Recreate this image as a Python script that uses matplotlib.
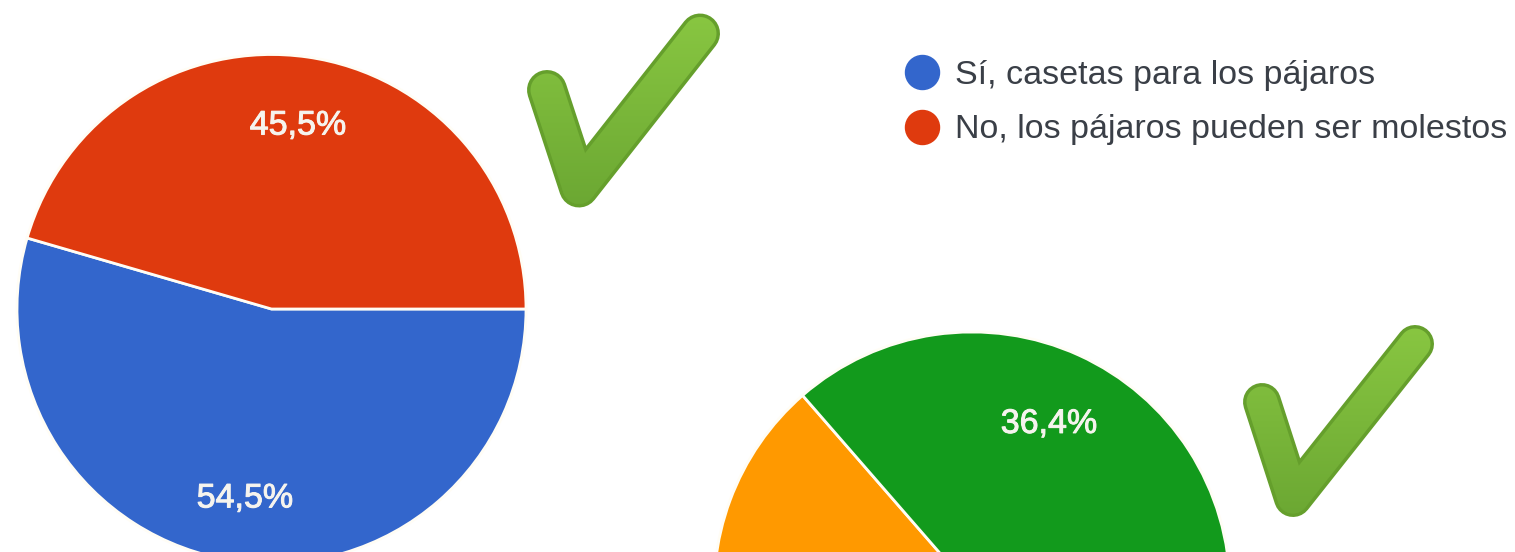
import numpy as np
import matplotlib
matplotlib.use("Agg")
import matplotlib.pyplot as plt
import matplotlib.patheffects as pe
from matplotlib.lines import Line2D
from matplotlib.path import Path
from matplotlib.patches import PathPatch

W, H = 1515, 552

# top pie
pie1_values = [54.5, 45.5]
pie1_labels = ["54,5%", "45,5%"]
pie1_colors = ["#3366cc", "#df3a0e"]
legend_labels = ["Sí, casetas para los pájaros", "No, los pájaros pueden ser molestos"]

# second pie, cut off by the bottom of the picture
pie2_values = [63.6, 36.4]
pie2_labels = [None, "36,4%"]
pie2_colors = ["#ff9900", "#129a1c"]


def py(y):
    # picture pixels count from the top
    return H - y


def capsule(p0, p1, r):
    """Closed outline of a thick segment with round ends."""
    p0, p1 = np.array(p0, float), np.array(p1, float)
    a = np.arctan2(*(p1 - p0)[::-1])
    t0 = np.linspace(a + np.pi / 2, a + 3 * np.pi / 2, 30)
    t1 = np.linspace(a - np.pi / 2, a + np.pi / 2, 30)
    pts = np.vstack([p0 + r * np.c_[np.cos(t0), np.sin(t0)],
                     p1 + r * np.c_[np.cos(t1), np.sin(t1)]])
    return Path(np.vstack([pts, pts[:1]]), closed=True)


def draw_check(ax, left, elbow, top, width=38):
    xs = [left[0], elbow[0], top[0]]
    ys = [py(left[1]), py(elbow[1]), py(top[1])]
    ax.add_line(Line2D(xs, ys, color="#659f2c", lw=width * 0.72,
                       solid_capstyle="round", solid_joinstyle="round", zorder=3))
    # gradient fill inside the darker rim
    cmap = matplotlib.colors.LinearSegmentedColormap.from_list(
        "chk", ["#8ac842", "#6aa632"])
    extent = (min(xs) - 30, max(xs) + 30, min(ys) - 30, max(ys) + 30)
    grad = np.linspace(0, 1, 128).reshape(-1, 1)
    for a, b in [((xs[0], ys[0]), (xs[1], ys[1])), ((xs[1], ys[1]), (xs[2], ys[2]))]:
        im = ax.imshow(grad, cmap=cmap, extent=extent, origin="upper",
                       aspect="auto", zorder=4)
        patch = PathPatch(capsule(a, b, width / 2 - 3.5), transform=ax.transData)
        im.set_clip_path(patch)


def draw_pie(ax, values, labels, colors, center, radius, label_r):
    wedges, _ = ax.pie(values, colors=colors, startangle=0, counterclock=False,
                       center=center, radius=radius, frame=True,
                       wedgeprops=dict(edgecolor="#fffdf5", linewidth=2.0))
    for w, lab in zip(wedges, labels):
        if lab is None:
            continue
        mid = np.deg2rad((w.theta1 + w.theta2) / 2)
        ax.text(center[0] + label_r * radius * np.cos(mid),
                center[1] + label_r * radius * np.sin(mid) - 12, lab,
                ha="center", va="baseline", color="#f6f4ee", fontsize=24.5,
                path_effects=[pe.withStroke(linewidth=0.7, foreground="#f6f4ee")])


def main():
    plt.rcParams["font.family"] = ["Liberation Sans", "DejaVu Sans"]
    fig = plt.figure(figsize=(W / 100, H / 100), dpi=100)
    ax = fig.add_axes([0, 0, 1, 1])

    draw_pie(ax, pie1_values, pie1_labels, pie1_colors, (271.5, py(309)), 254.5, 0.74)
    draw_pie(ax, pie2_values, pie2_labels, pie2_colors, (972, py(590)), 258, 0.72)

    draw_check(ax, (547, 90), (579, 187.5), (700, 33.5), width=40)
    draw_check(ax, (1262, 402), (1293, 498), (1415, 344))

    handles = [Line2D([], [], linestyle="none", marker="o", markersize=24.5,
                      color=c) for c in pie1_colors]
    ax.legend(handles, legend_labels, loc="upper left",
              bbox_to_anchor=(903.3, py(60)), bbox_transform=ax.transData,
              frameon=False, fontsize=24.5, labelcolor="#3a3f47", labelspacing=0.69,
              handletextpad=0.43, handlelength=1.1, borderpad=0, borderaxespad=0)

    ax.set_xlim(0, W)
    ax.set_ylim(0, H)
    ax.set_axis_off()
    fig.savefig("out.png", dpi=100)
    plt.close(fig)


if __name__ == "__main__":
    main()
